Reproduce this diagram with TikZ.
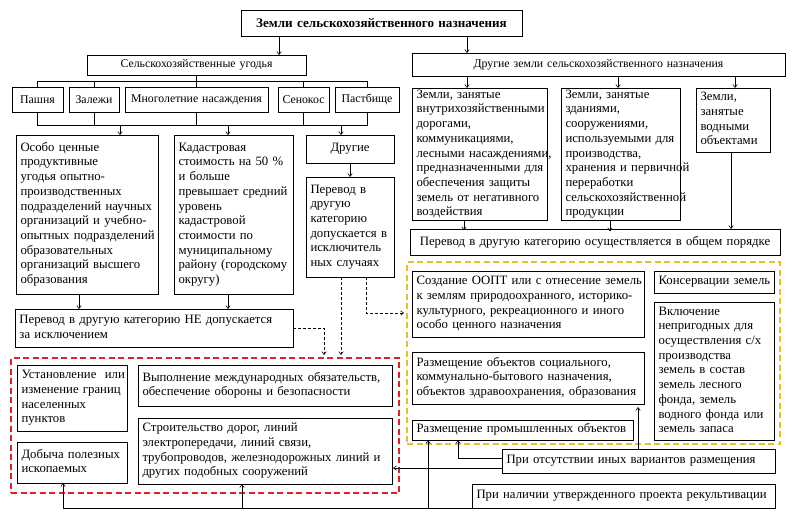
\documentclass[tikz,border=0pt]{standalone}
\usepackage{fontspec}
\setmainfont{Liberation Serif}
\usetikzlibrary{arrows.meta,calc}
\newcommand\fsz{\fontsize{12.75}{14.7}\selectfont}
\newcommand\fsm{\fontsize{11.8}{14}\selectfont}
\newcommand\ftt{\fontsize{13.1}{15}\selectfont\bfseries}
\newcommand\tl[1]{\begin{tabular}{@{}l@{}}#1\end{tabular}}
\definecolor{rdash}{RGB}{228,32,32}
\definecolor{ydash}{RGB}{238,190,40}
\tikzset{
 wh/.code 2 args={\pgfmathsetmacro\tmpw{#1-9}\edef\tmpx{\noexpand\pgfkeysalso{minimum width=#1pt,minimum height=#2pt,text width=\tmpw pt}}\tmpx},
 bx/.style={draw, line width=0.7pt, anchor=north west, inner xsep=4.5pt, inner ysep=0pt, outer sep=0pt, font=\fsz, align=left},
 bxc/.style={bx, align=center},
 bxs/.style={bxc, font=\fsm},
 arr/.style={line width=0.6pt, -{Straight Barb[length=3pt,width=4.5pt]}},
 darr/.style={arr, dash pattern=on 3pt off 2pt},
 ln/.style={line width=0.6pt},
 grp/.style={line width=1.6pt, dash pattern=on 6pt off 3.5pt, anchor=north west, inner sep=0pt, outer sep=0pt},
 redg/.style={grp, draw=rdash},
 yelg/.style={grp, draw=ydash},
}
\begin{document}
\begin{tikzpicture}[x=1pt,y=-1pt]
\fill[white] (0,0) rectangle (792,520);
\useasboundingbox (0,0) rectangle (792,520);

% groups
\node[redg, wh={388}{135}] (rg) at (11,358) {};
\node[yelg, wh={373}{182}] (yg) at (407,262) {};

% top
\node[bxc, font=\ftt, wh={281}{26}] (t) at (241,10) {Земли сельскохозяйственного назначения};
\node[bxs, wh={219}{20}] (su) at (87,55) {Сельскохозяйственные угодья};
\node[bxs, wh={373}{23}] (dz) at (412,53) {Другие земли сельскохозяйственного назначения};

% row of lands
\node[bxs, wh={51}{25}] (pa) at (12,87) {Пашня};
\node[bxs, wh={50}{25}] (za) at (69,87) {Залежи};
\node[bxs, wh={143}{25}] (mn) at (125,87) {Многолетние насаждения};
\node[bxs, wh={51}{25}] (se) at (278,87) {Сенокос};
\node[bxs, wh={64}{25}] (pb) at (335,87) {Пастбище};

% left branch
\node[bx, wh={142}{159}] (oc) at (16,135) {\tl{Особо ценные\\продуктивные\\угодья опытно-\\производственных\\подразделений научных\\организаций и учебно-\\опытных подразделений\\образовательных\\организаций высшего\\образования}};
\node[bx, wh={119}{159}] (kd) at (174,135) {\tl{Кадастровая\\стоимость на 50 \%\\и больше\\превышает средний\\уровень\\кадастровой\\стоимости по\\муниципальному\\району (городскому\\округу)}};
\node[bxc, wh={88}{28}] (dr) at (306,135) {Другие};
\node[bx, wh={88}{100}] (pi) at (306,177) {\tl{Перевод в\\другую\\категорию\\допускается в\\исключитель\\ных случаях}};
\node[bx, wh={278}{38}] (pn) at (15,309) {\tl{Перевод в другую категорию НЕ допускается\\за исключением}};

% right branch
\node[bx, wh={135}{131}] (A) at (412,88) {\tl{Земли, занятые\\внутрихозяйственными\\дорогами,\\коммуникациями,\\лесными насаждениями,\\предназначенными для\\обеспечения защиты\\земель от негативного\\воздействия}};
\node[bx, wh={119}{130}] (B) at (561,88) {\tl{Земли, занятые\\зданиями,\\сооружениями,\\используемыми для\\производства,\\хранения и первичной\\переработки\\сельскохозяйственной\\продукции}};
\node[bx, wh={74}{64}] (C) at (696,88) {\tl{Земли,\\занятые\\водными\\объектами}};
\node[bxc, wh={370}{26}] (og) at (410,229) {Перевод в другую категорию осуществляется в общем порядке};

% yellow group
\node[bx, wh={232}{66}] (oopt) at (412,271) {\tl{Создание ООПТ или с отнесение земель\\к землям природоохранного, историко-\\культурного, рекреационного и иного\\особо ценного назначения}};
\node[bx, wh={120}{22}] (kons) at (654,271) {\tl{Консервации земель}};
\node[bx, wh={120}{138}] (vkl) at (654,302) {\tl{Включение\\непригодных для\\осуществления с/х\\производства\\земель в состав\\земель лесного\\фонда, земель\\водного фонда или\\земель запаса}};
\node[bx, wh={232}{52}] (soc) at (412,352) {\tl{Размещение объектов социального,\\коммунально-бытового назначения,\\объектов здравоохранения, образования}};
\node[bx, wh={221}{20}] (prom) at (412,420) {\tl{Размещение промышленных объектов}};

% red group
\node[bx, wh={110}{66}] (ust) at (17,365) {\tl{Установление~ или\\изменение границ\\населенных\\пунктов}};
\node[bx, wh={110}{41}] (dob) at (17,442) {\tl{Добыча полезных\\ископаемых}};
\node[bx, wh={254}{41}] (vyp) at (138,365) {\tl{Выполнение международных обязательств,\\обеспечение обороны и безопасности}};
\node[bx, wh={254}{66}] (str) at (138,418) {\tl{Строительство дорог, линий\\электропередачи, линий связи,\\трубопроводов, железнодорожных линий и\\других подобных сооружений}};

% conditions
\node[bx, wh={273}{24}] (otc) at (502,449) {\tl{При отсутствии иных вариантов размещения}};
\node[bx, wh={303}{24}] (nal) at (472,484) {\tl{При наличии утвержденного проекта рекультивации}};

% connectors top
\draw[arr] ($(t.south west)+(38,0)$) -- ++(0,19);
\draw[arr] ($(t.south east)+(-55,0)$) -- ++(0,17);

% bus 1
\draw[ln] (pa.north) -- ++(0,-6) -| (pb.north);
\draw[ln] (za.north) -- ++(0,-6);
\draw[ln] (se.north) -- ++(0,-6);
\draw[ln] (su.south) -- (mn.north);
% bus 2
\draw[ln] (pa.south) -- ++(0,13) -| (pb.south);
\draw[ln] (za.south) -- ++(0,13);
\draw[ln] (mn.south) -- ++(0,13);
\draw[ln] (se.south) -- ++(0,13);
\draw[arr] ($(oc.north west)+(104,-10)$) -- ++(0,10);
\draw[arr] ($(kd.north west)+(54,-10)$) -- ++(0,10);
\draw[arr] ($(dr.north west)+(35,-10)$) -- ++(0,10);
\draw[arr] (dr.south) -- (pi.north);
\draw[arr] ($(oc.south west)+(63,0)$) -- ++(0,15);
\draw[arr] ($(kd.south west)+(54,0)$) -- ++(0,15);

% right branch connectors
\draw[arr] ($(dz.south west)+(55,0)$) -- ++(0,12);
\draw[arr] ($(dz.south west)+(206,0)$) -- ++(0,12);
\draw[arr] ($(dz.south west)+(323,0)$) -- ++(0,12);
\draw[arr] ($(A.south west)+(52,0)$) -- ++(0,10);
\draw[arr] ($(B.south west)+(49,0)$) -- ++(0,11);
\draw[arr] ($(C.south west)+(35,0)$) -- ++(0,77);

% dashed connectors
\draw[darr] (pn.east) -| ($(rg.north west)+(313,-3)$);
\draw[darr] ($(pi.south west)+(35,0)$) -- ($(rg.north west)+(330,-3)$);
\draw[darr] ($(pi.south west)+(60,0)$) |- ($(yg.north west)+(-3,51)$);

% condition connectors
\draw[arr] ($(otc.south west)+(0,-5)$) -- ($(str.east)+(1,17)$);
\draw[arr] ($(otc.north west)+(0,9)$) -| ($(prom.south west)+(46,0)$);
\draw[arr] ($(otc.north west)+(136,0)$) -- ($(soc.south west)+(226,3)$);
\draw[arr] (nal.south west) -| ($(dob.south west)+(46,0)$);
\draw[arr] ($(str.south west)+(104,24)$) -- ($(str.south west)+(104,0)$);
\draw[arr] ($(prom.south west)+(16,68)$) -- ($(prom.south west)+(16,0)$);
\end{tikzpicture}
\end{document}
